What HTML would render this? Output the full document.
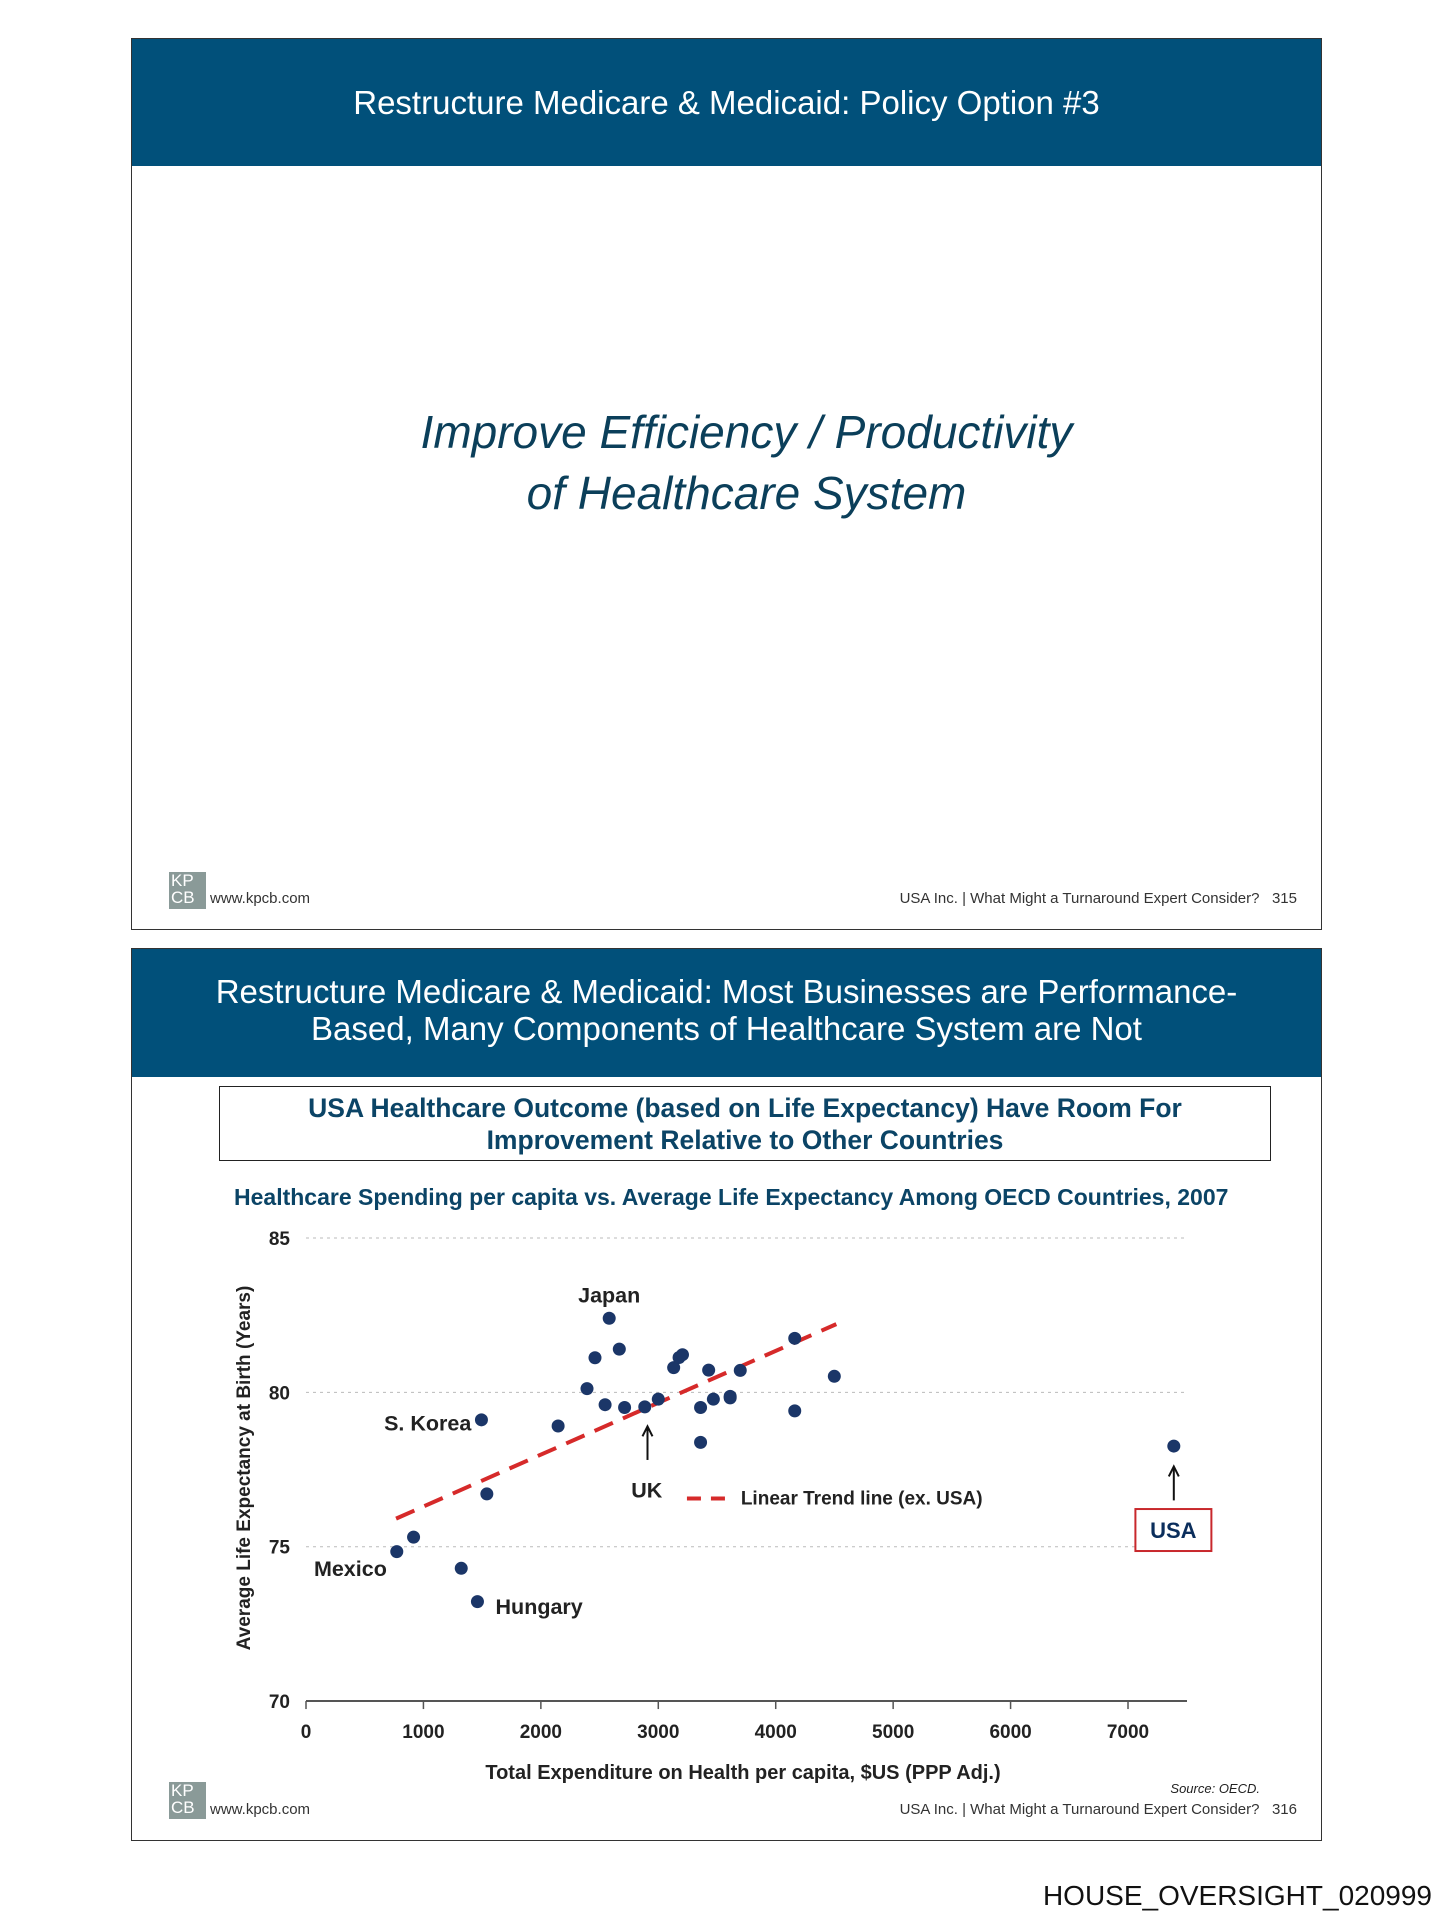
<!DOCTYPE html>
<html><head><meta charset="utf-8"><style>
body{margin:0;width:1453px;height:1920px;background:#fff;position:relative;font-family:"Liberation Sans",Arial,sans-serif;overflow:hidden}
.abs{position:absolute}
.slide{position:absolute;left:131px;width:1189px;border:1.5px solid #333;background:#fff}
.hdr{position:absolute;left:0;top:0;width:100%;background:#01507a;color:#fff;text-align:center;font-size:33px}
.logo{position:absolute;width:37px;height:37px;background:#8a9a98;color:#fff;font-size:17px;line-height:17px;padding-left:2px;box-sizing:border-box}
.foot{position:absolute;font-size:15px;color:#333}
</style></head><body>
<div class="slide" style="top:38px;height:890px">
 <div class="hdr" style="height:127px;line-height:127px">Restructure Medicare &amp; Medicaid: Policy Option #3</div>
 <div class="abs" style="left:20px;width:100%;top:363px;text-align:center;font-style:italic;font-size:46px;line-height:61px;color:#0b3f5a">Improve Efficiency / Productivity<br>of Healthcare System</div>
 <div class="logo" style="left:37px;top:833px">KP<br>CB</div>
 <div class="foot" style="left:78px;top:851px">www.kpcb.com</div>
 <div class="foot" style="right:24px;top:851px">USA Inc. | What Might a Turnaround Expert Consider?&nbsp;&nbsp; 315</div>
</div>
<div class="slide" style="top:948px;height:891px">
 <div class="hdr" style="height:128px;font-size:33px;line-height:37px;padding-top:24px;box-sizing:border-box">Restructure Medicare &amp; Medicaid: Most Businesses are Performance-<br>Based, Many Components of Healthcare System are Not</div>
 <div class="abs" style="left:87px;top:137px;width:1052px;height:75px;border:1.5px solid #222;text-align:center;color:#0b4466;font-weight:bold;font-size:26.5px;line-height:32px;padding-top:5px;box-sizing:border-box">USA Healthcare Outcome (based on Life Expectancy) Have Room For<br>Improvement Relative to Other Countries</div>
 <div class="logo" style="left:37px;top:833px">KP<br>CB</div>
 <div class="foot" style="left:78px;top:852px">www.kpcb.com</div>
 <div class="foot" style="right:24px;top:852px">USA Inc. | What Might a Turnaround Expert Consider?&nbsp;&nbsp; 316</div>
</div>
<svg class="abs" style="left:0;top:0" width="1453" height="1920" id="chart" font-family="Liberation Sans, Arial, sans-serif">
 <text x="234" y="1205" font-size="23" font-weight="bold" fill="#0b4466">Healthcare Spending per capita vs. Average Life Expectancy Among OECD Countries, 2007</text>
 <text x="245" y="1468" font-size="19" font-weight="bold" fill="#222" text-anchor="middle" transform="rotate(-90 245 1468)" dominant-baseline="middle">Average Life Expectancy at Birth (Years)</text>
 <text x="743" y="1779" font-size="20" font-weight="bold" fill="#222" text-anchor="middle">Total Expenditure on Health per capita, $US (PPP Adj.)</text>
 <text x="1260" y="1793" font-size="13" font-style="italic" fill="#222" text-anchor="end">Source: OECD.</text>
 <text x="1432" y="1905" font-size="28" fill="#111" text-anchor="end">HOUSE_OVERSIGHT_020999</text>
</svg>
<script>
const xTicks=[0,1000,2000,3000,4000,5000,6000,7000];
const yTicks=[70,75,80,85];
const spend=[773,916,1322,1460,1494,1540,2147,2393,2461,2547,2582,2668,2713,2885,3000,3131,3177,3206,3360,3360,3429,3469,3612,3612,3698,4162,4162,4499,7390];
const lifeExp=[74.84,75.31,74.30,73.22,79.11,76.71,78.91,80.12,81.12,79.60,82.40,81.40,79.51,79.53,79.78,80.80,81.13,81.22,79.51,78.38,80.72,79.78,79.87,79.82,80.71,81.75,79.40,80.52,78.26];
const trendX=[767,4516];
const trendY=[75.91,82.21];
const X=v=>306+v*0.11743, Y=v=>1238+(85-v)*30.87;
const svg=document.getElementById('chart'),NS='http://www.w3.org/2000/svg';
function mk(t,a,txt){const e=document.createElementNS(NS,t);for(const k in a)e.setAttribute(k,a[k]);if(txt!=null)e.textContent=txt;svg.appendChild(e);return e;}
yTicks.forEach(v=>{
 if(v>70){const g=mk('line',{x1:306,x2:1187,y1:Y(v),y2:Y(v),stroke:'#bbb','stroke-dasharray':'3,4'});
 
 }
 const t=mk('text',{x:290,y:Y(v)+7,'font-size':19,'font-weight':'bold','text-anchor':'end',fill:'#222'},v);
 
 
});
const ax=mk('line',{x1:306,x2:1187,y1:Y(70),y2:Y(70),stroke:'#555','stroke-width':2});


xTicks.forEach(v=>{
 const l=mk('line',{x1:X(v),x2:X(v),y1:Y(70),y2:Y(70)+8,stroke:'#555','stroke-width':1.5});
 
 
 const t=mk('text',{x:X(v),y:1738,'font-size':19,'font-weight':'bold','text-anchor':'middle',fill:'#222'},v);
 
 
});
const tl=mk('line',{x1:X(trendX[0]),y1:Y(trendY[0]),x2:X(trendX[1]),y2:Y(trendY[1]),stroke:'#d62a2a','stroke-width':4,'stroke-dasharray':'20,11'});


spend.forEach((s,i)=>{
 const c=mk('circle',{cx:X(s),cy:Y(lifeExp[i]),r:6.5,fill:'#1b3668'});
 
 
});
function arrow(x,y1,y2,n){
 const l=mk('line',{x1:X(x),x2:X(x),y1:Y(y1),y2:Y(y2)+2,stroke:'#111','stroke-width':2});
 
 
 const p=mk('path',{d:`M${X(x)-5} ${Y(y2)+10} L${X(x)} ${Y(y2)} L${X(x)+5} ${Y(y2)+10}`,fill:'none',stroke:'#111','stroke-width':2});
 
 
}
arrow(2908,77.81,78.9,'uk-arrow');
arrow(7390,76.5,77.6,'usa-arrow');
function lab(txt,x,y,anchor,n){
 const t=mk('text',{x:X(x),y:Y(y)+7,'font-size':21.5,'font-weight':'bold','text-anchor':anchor,fill:'#222'},txt);
 
 
}
lab('Japan',2582,83.14,'middle','label-japan');
lab('S. Korea',1408,78.99,'end','label-s-korea');
lab('UK',2902,76.82,'middle','label-uk');
lab('Mexico',378,74.28,'middle','label-mexico');
lab('Hungary',1614,73.04,'start','label-hungary');
const ld=mk('line',{x1:X(3244),x2:X(3592),y1:Y(76.56),y2:Y(76.56),stroke:'#d62a2a','stroke-width':4,'stroke-dasharray':'14,10'});


const lt=mk('text',{x:X(3703),y:Y(76.56)+6,'font-size':19,'font-weight':'bold',fill:'#222'},'Linear Trend line (ex. USA)');


const ub=mk('rect',{x:X(7063),y:Y(76.22),width:X(7710)-X(7063),height:Y(74.86)-Y(76.22),fill:'#fff',stroke:'#c8282c','stroke-width':2});


const ut=mk('text',{x:X(7386),y:Y(75.54)+8,'font-size':22,'font-weight':'bold','text-anchor':'middle',fill:'#0b2e5c'},'USA');


</script>
</body></html>
